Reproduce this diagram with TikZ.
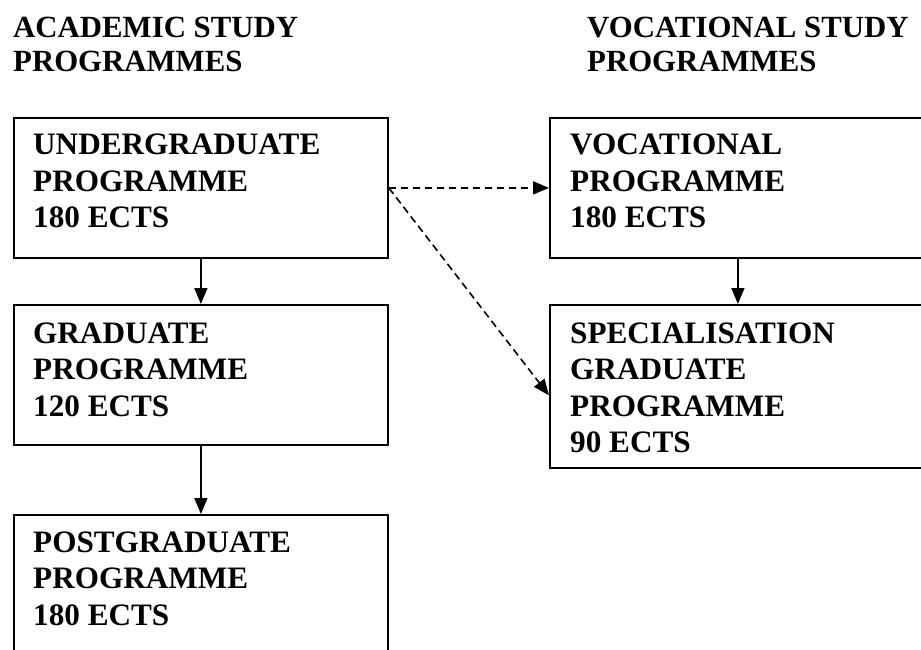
\documentclass[tikz,border=0pt]{standalone}
\usepackage{fontspec}
\setmainfont{Liberation Serif}
\usetikzlibrary{arrows.meta}
\tikzset{
  box/.style={draw=black, line width=1.8pt, fill=none, inner sep=0pt, anchor=north west},
  lbl/.style={anchor=base west, inner sep=0pt, font=\fontsize{31.2}{36.5}\selectfont\bfseries},
  hdr/.style={anchor=base west, inner sep=0pt, font=\fontsize{30.8}{34}\selectfont\bfseries},
  flow/.style={line width=1.6pt, -{Triangle[length=16pt,width=13pt]}},
  dflow/.style={line width=1.6pt, dash pattern=on 7.5pt off 4.5pt, -{Triangle[length=16pt,width=13pt]}}
}
\begin{document}
\begin{tikzpicture}[x=1pt,y=-1pt]
\useasboundingbox (0,0) rectangle (921,650);
\clip (0,0) rectangle (921,650);
% headers
\node[hdr] (hA) at (13,38) {\begin{tabular}[t]{@{}l@{}}ACADEMIC STUDY\\PROGRAMMES\end{tabular}};
\node[hdr] (hV) at (587,38) {\begin{tabular}[t]{@{}l@{}}VOCATIONAL STUDY\\PROGRAMMES\end{tabular}};
% boxes
\node[box, minimum width=374pt, minimum height=140pt] (ug) at (13,117) {};
\node[box, minimum width=374pt, minimum height=140pt] (gr) at (13,304) {};
\node[box, minimum width=374pt, minimum height=160pt] (pg) at (13,514) {};
\node[box, minimum width=376pt, minimum height=140pt] (voc) at (549,117) {};
\node[box, minimum width=376pt, minimum height=163pt] (spec) at (549,304) {};
% texts
\node[lbl] (tug) at (33,155) {\begin{tabular}[t]{@{}l@{}}UNDERGRADUATE\\PROGRAMME\\180 ECTS\end{tabular}};
\node[lbl] (tgr) at (33,343) {\begin{tabular}[t]{@{}l@{}}GRADUATE\\PROGRAMME\\120 ECTS\end{tabular}};
\node[lbl] (tpg) at (33,552) {\begin{tabular}[t]{@{}l@{}}POSTGRADUATE\\PROGRAMME\\180 ECTS\end{tabular}};
\node[lbl] (tvoc) at (570,155) {\begin{tabular}[t]{@{}l@{}}VOCATIONAL\\PROGRAMME\\180 ECTS\end{tabular}};
\node[lbl] (tspec) at (570,343) {\begin{tabular}[t]{@{}l@{}}SPECIALISATION\\GRADUATE\\PROGRAMME\\90 ECTS\end{tabular}};
% connectors
\draw[flow] (ug.south) -- (gr.north);
\draw[flow] (gr.south) -- (pg.north);
\draw[flow] (voc.south) -- (spec.north);
\draw[dflow] (ug.east) -- (voc.west);
\draw[dflow] (ug.east) -- ([yshift=-9pt]spec.west);
\end{tikzpicture}
\end{document}
